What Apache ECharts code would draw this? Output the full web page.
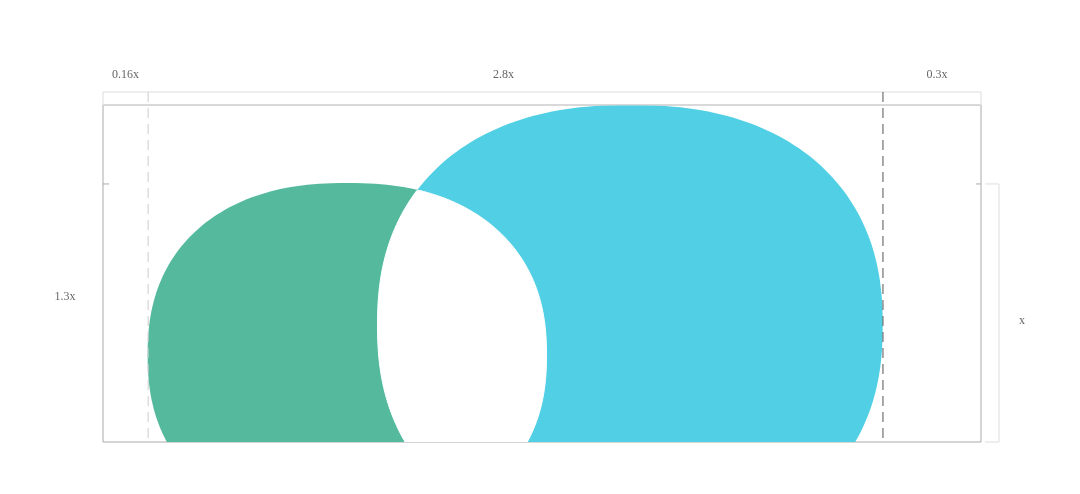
<!DOCTYPE html>
<html><head><meta charset="utf-8">
<script src="https://cdn.jsdelivr.net/npm/echarts@6/dist/echarts.min.js"></script>
<style>html,body{margin:0;padding:0;background:#fff}#c{width:1080px;height:494px}</style>
</head><body><div id="c"></div>
<script>
// blobs: [cx, cy, rx, ry] in units of x
var blobNames = ['green', 'cyan'];
var blobShapes = [[0.946, 0.337, 0.773, 0.667], [2.043, 0.453, 0.979, 0.853]];
var blobColors = ['#55ba9d', '#50cfe5'];
var segLabels = ['0.16x', '2.8x', '0.3x'];
var segBounds = [0, 0.175, 3.023, 3.403];
var heightLabel = '1.3x', unitLabel = 'x';
var unitTop = 1.0, yMax = 1.306, xMax = 3.403;
var EXP = 2.3;

function blobPts(b, api) {
  var pts = [];
  for (var i = 0; i < 240; i++) {
    var t = i / 240 * Math.PI * 2, c = Math.cos(t), s = Math.sin(t);
    var x = b[0] + b[2] * Math.sign(c) * Math.pow(Math.abs(c), 2 / EXP);
    var y = b[1] + b[3] * Math.sign(s) * Math.pow(Math.abs(s), 2 / EXP);
    pts.push(api.coord([x, y]));
  }
  return pts;
}
function inside(p, poly) {
  var c = false;
  for (var i = 0, j = poly.length - 1; i < poly.length; j = i++) {
    var a = poly[i], b = poly[j];
    if ((a[1] > p[1]) != (b[1] > p[1]) && p[0] < (b[0] - a[0]) * (p[1] - a[1]) / (b[1] - a[1]) + a[0]) c = !c;
  }
  return c;
}
var chart = echarts.init(document.getElementById('c'));
var F = 'Liberation Serif, DejaVu Serif, serif';
chart.setOption({
  animation: false,
  grid: {left: 103, right: 99, top: 105, bottom: 52, show: true, borderColor: '#aaa', borderWidth: 1},
  xAxis: {type: 'value', min: 0, max: xMax, show: false},
  yAxis: {type: 'value', min: 0, max: yMax, show: false},
  series: [{
    type: 'custom', clip: true, data: [0],
    renderItem: function (p, api) {
      var A = blobPts(blobShapes[0], api), B = blobPts(blobShapes[1], api);
      var I = A.filter(function (q) { return inside(q, B); }).concat(B.filter(function (q) { return inside(q, A); }));
      var cx = 0, cy = 0; I.forEach(function (q) { cx += q[0]; cy += q[1]; }); cx /= I.length; cy /= I.length;
      I.sort(function (a, b) { return Math.atan2(a[1] - cy, a[0] - cx) - Math.atan2(b[1] - cy, b[0] - cx); });
      return {type: 'group', children: [
        {type: 'polygon', shape: {points: A}, style: {fill: blobColors[0]}},
        {type: 'polygon', shape: {points: B}, style: {fill: blobColors[1]}},
        {type: 'polygon', shape: {points: I}, style: {fill: '#fff', stroke: '#fff', lineWidth: 1}}
      ]};
    }
  }, {
    type: 'custom', clip: false, data: [0], z: 5,
    renderItem: function (p, api) {
      var L = api.coord([0, 0]), R = api.coord([xMax, yMax]);
      var x1 = api.coord([segBounds[1], 0])[0], x2 = api.coord([segBounds[2], 0])[0];
      var yt = api.coord([0, unitTop])[1];
      var ch = [
        {type: 'rect', shape: {x: L[0], y: R[1] - 13, width: R[0] - L[0], height: 13}, style: {fill: 'none', stroke: '#ddd', lineWidth: 1}},
        {type: 'line', shape: {x1: x1, y1: R[1] - 13, x2: x1, y2: L[1]}, style: {stroke: '#ccc', lineDash: [10, 6], lineWidth: 1}},
        {type: 'line', shape: {x1: x2, y1: R[1] - 13, x2: x2, y2: L[1]}, style: {stroke: '#555', lineDash: [10, 6], lineWidth: 1}},
        {type: 'line', shape: {x1: L[0], y1: yt, x2: L[0] + 6, y2: yt}, style: {stroke: '#aaa'}},
        {type: 'line', shape: {x1: R[0] - 5, y1: yt, x2: R[0], y2: yt}, style: {stroke: '#aaa'}},
        {type: 'polyline', shape: {points: [[R[0] + 4, yt], [R[0] + 18, yt], [R[0] + 18, L[1]], [R[0] + 4, L[1]]]}, style: {fill: 'none', stroke: '#ddd'}},
        {type: 'text', x: 65, y: 297, style: {text: heightLabel, fill: '#666', font: '12px ' + F, align: 'center', verticalAlign: 'middle'}},
        {type: 'text', x: R[0] + 41, y: (yt + L[1]) / 2 + 8, style: {text: unitLabel, fill: '#666', font: '12px ' + F, align: 'center', verticalAlign: 'middle'}}
      ];
      var offs = [0, -12, 5];
      for (var i = 0; i < 3; i++) {
        var a = api.coord([segBounds[i], 0])[0], b = api.coord([segBounds[i + 1], 0])[0];
        ch.push({type: 'text', x: (a + b) / 2 + offs[i], y: 75, style: {text: segLabels[i], fill: '#666', font: '12px ' + F, align: 'center', verticalAlign: 'middle'}});
      }
      return {type: 'group', children: ch};
    }
  }]
});
</script></body></html>
